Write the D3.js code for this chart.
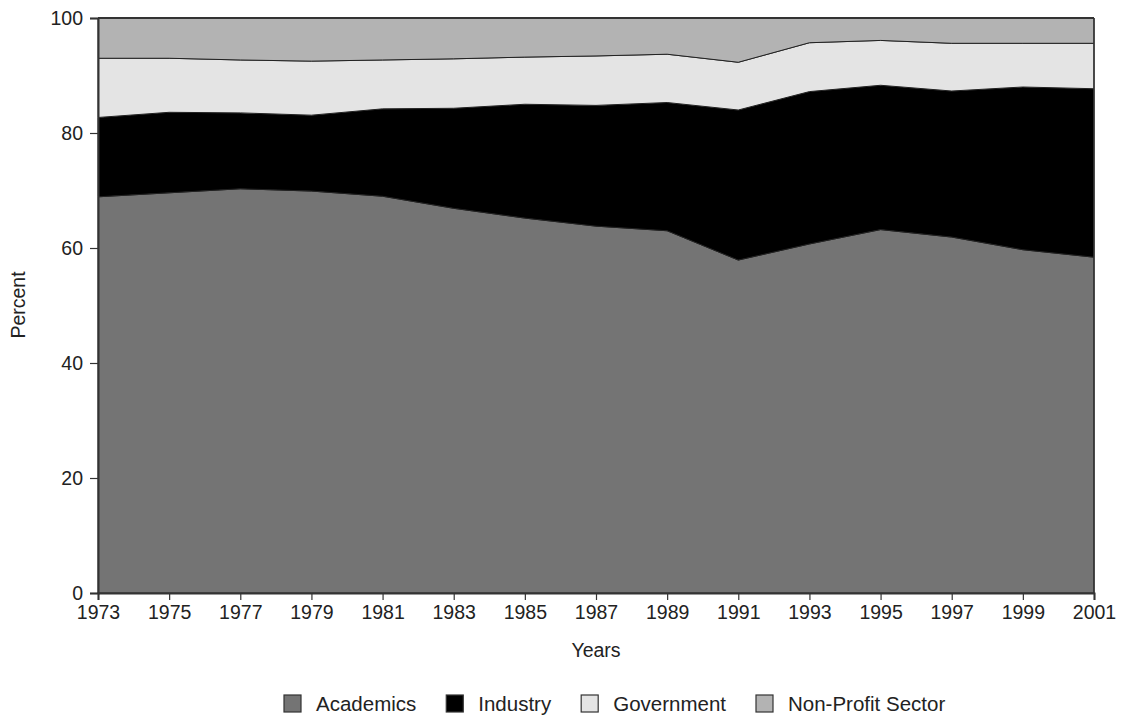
<!DOCTYPE html>
<html><head><meta charset="utf-8">
<script src="https://cdn.jsdelivr.net/npm/d3@7"></script>
<style>
body{margin:0;background:#fff;}
text{font-family:"Liberation Sans",Arial,Helvetica,sans-serif;fill:#222;}
</style></head>
<body><svg id="c" width="1127" height="717"></svg>
<script>
const years = [1973,1975,1977,1979,1981,1983,1985,1987,1989,1991,1993,1995,1997,1999,2001];
const academics = [68.9,69.6,70.3,69.9,69.0,66.9,65.2,63.8,63.0,57.9,60.7,63.2,61.9,59.7,58.4];
const industry = [13.8,14.0,13.2,13.2,15.2,17.4,19.8,21.0,22.3,26.1,26.5,25.1,25.4,28.3,29.3];
const government = [10.3,9.4,9.2,9.4,8.5,8.6,8.2,8.6,8.4,8.3,8.5,7.8,8.3,7.6,7.9];
const nonProfit = [7.0,7.0,7.3,7.5,7.3,7.1,6.8,6.6,6.3,7.7,4.3,3.9,4.4,4.4,4.4];
const seriesNames = ["Academics","Industry","Government","Non-Profit Sector"];
const yTicks = [0,20,40,60,80,100];

const colors = ["#747474","#000000","#e4e4e4","#b3b3b3"];
const svg = d3.select("#c");
const L=98,R=1094,T=18,B=593;
const x = d3.scaleLinear().domain([1973,2001]).range([L,R]);
const y = d3.scaleLinear().domain([0,100]).range([B,T]);

const rows = years.map((yr,i)=>({year:yr,"Academics":academics[i],"Industry":industry[i],"Government":government[i],"Non-Profit Sector":nonProfit[i]}));
const stack = d3.stack().keys(seriesNames)(rows);
const area = d3.area().x(d=>x(d.data.year)).y0(d=>y(d[0])).y1(d=>y(d[1]));
svg.selectAll("path.a").data(stack).join("path").attr("class","a")
  .attr("d",area).attr("fill",(d,i)=>colors[i]).attr("stroke","#222").attr("stroke-width",1);

// border top & right
svg.append("line").attr("x1",L).attr("x2",R).attr("y1",T).attr("y2",T).attr("stroke","#333").attr("stroke-width",2);
svg.append("line").attr("x1",R).attr("x2",R).attr("y1",T).attr("y2",B).attr("stroke","#333").attr("stroke-width",1.5);

const yAxis = svg.append("g").attr("transform",`translate(${L},0)`)
  .call(d3.axisLeft(y).tickValues(yTicks).tickSize(8).tickPadding(7));
const xAxis = svg.append("g").attr("transform",`translate(0,${B})`)
  .call(d3.axisBottom(x).tickValues(years).tickFormat(d3.format("d")).tickSize(7).tickPadding(5));
[yAxis,xAxis].forEach(g=>{
  g.select(".domain").attr("stroke","#333").attr("stroke-width",2);
  g.selectAll(".tick line").attr("stroke","#333").attr("stroke-width",1.2);
  g.selectAll("text").attr("font-size",19.5).attr("fill","#222").attr("font-family","Liberation Sans, Arial, sans-serif");
});

svg.append("text").attr("x",(L+R)/2).attr("y",657).attr("text-anchor","middle").attr("font-size",19.5).text("Years");
svg.append("text").attr("transform","translate(25,305) rotate(-90)").attr("text-anchor","middle").attr("font-size",19.5).text("Percent");

// legend
const lg = svg.append("g");
let cx = 284;
seriesNames.forEach((n,i)=>{
  lg.append("rect").attr("x",cx).attr("y",695).attr("width",17).attr("height",17)
    .attr("fill",colors[i]).attr("stroke","#333").attr("stroke-width",1.2);
  const t = lg.append("text").attr("x",cx+32).attr("y",711).attr("font-size",20.5).text(n);
  cx += 32 + t.node().getComputedTextLength() + 30;
});
</script></body></html>
